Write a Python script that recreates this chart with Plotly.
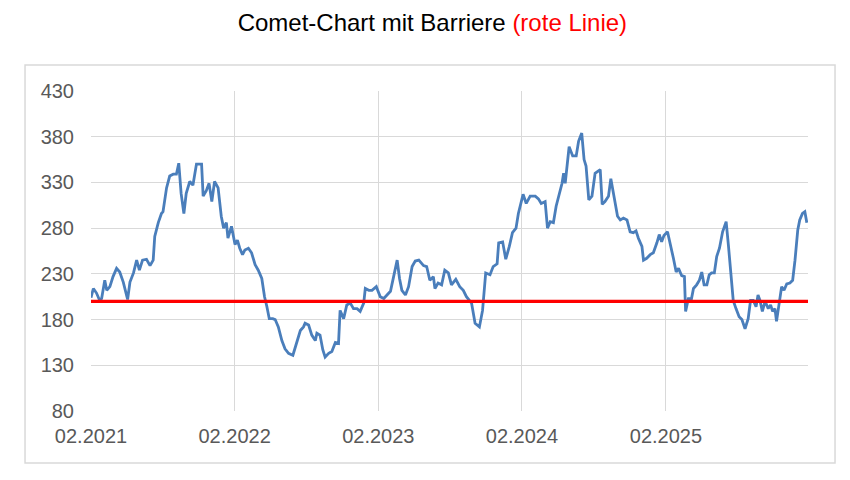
import plotly.graph_objects as go

# Comet-Chart mit Barriere

dates = [
    "2021-02-01", "2021-02-07", "2021-02-15", "2021-02-22", "2021-02-28", "2021-03-08",
    "2021-03-13", "2021-03-21", "2021-03-29", "2021-04-07", "2021-04-15", "2021-04-24",
    "2021-05-05", "2021-05-11", "2021-05-20", "2021-05-28", "2021-06-04", "2021-06-12",
    "2021-06-22", "2021-07-01", "2021-07-09", "2021-07-13", "2021-07-22", "2021-07-30",
    "2021-08-03", "2021-08-12", "2021-08-20", "2021-08-29", "2021-09-06", "2021-09-12",
    "2021-09-18", "2021-09-25", "2021-10-01", "2021-10-10", "2021-10-18", "2021-10-27",
    "2021-11-04", "2021-11-09", "2021-11-13", "2021-11-21", "2021-11-28", "2021-12-05",
    "2021-12-12", "2021-12-21", "2021-12-29", "2022-01-04", "2022-01-11", "2022-01-15",
    "2022-01-24", "2022-02-02", "2022-02-08", "2022-02-14", "2022-02-21", "2022-02-27",
    "2022-03-08", "2022-03-16", "2022-03-25", "2022-04-02", "2022-04-11", "2022-04-18",
    "2022-04-24", "2022-04-30", "2022-05-09", "2022-05-15", "2022-05-23", "2022-06-01",
    "2022-06-09", "2022-06-18", "2022-06-29", "2022-07-09", "2022-07-18", "2022-07-26",
    "2022-07-30", "2022-08-08", "2022-08-16", "2022-08-25", "2022-08-29", "2022-09-06",
    "2022-09-13", "2022-09-19", "2022-09-28", "2022-10-06", "2022-10-15", "2022-10-23",
    "2022-10-27", "2022-11-05", "2022-11-13", "2022-11-22", "2022-11-30", "2022-12-09",
    "2022-12-17", "2022-12-26", "2022-12-30", "2023-01-08", "2023-01-16", "2023-01-27",
    "2023-02-06", "2023-02-15", "2023-02-23", "2023-03-04", "2023-03-12", "2023-03-21",
    "2023-03-27", "2023-04-02", "2023-04-11", "2023-04-19", "2023-04-28", "2023-05-06",
    "2023-05-15", "2023-05-27", "2023-06-04", "2023-06-12", "2023-06-21", "2023-06-25",
    "2023-07-03", "2023-07-12", "2023-07-20", "2023-07-29", "2023-08-06", "2023-08-17",
    "2023-08-27", "2023-09-05", "2023-09-13", "2023-09-26", "2023-10-05", "2023-10-16",
    "2023-10-24", "2023-11-01", "2023-11-12", "2023-11-20", "2023-11-30", "2023-12-04",
    "2023-12-14", "2023-12-22", "2023-12-31", "2024-01-08", "2024-01-17", "2024-01-23",
    "2024-02-04", "2024-02-12", "2024-02-22", "2024-03-06", "2024-03-14", "2024-03-21",
    "2024-03-31", "2024-04-06", "2024-04-13", "2024-04-21", "2024-04-28", "2024-05-04",
    "2024-05-13", "2024-05-17", "2024-05-21", "2024-05-31", "2024-06-09", "2024-06-18",
    "2024-06-24", "2024-07-02", "2024-07-08", "2024-07-13", "2024-07-20", "2024-07-28",
    "2024-08-05", "2024-08-18", "2024-08-23", "2024-08-30", "2024-09-08", "2024-09-14",
    "2024-09-21", "2024-10-01", "2024-10-08", "2024-10-16", "2024-10-25", "2024-11-02",
    "2024-11-10", "2024-11-17", "2024-11-23", "2024-12-02", "2024-12-06", "2024-12-14",
    "2024-12-23", "2024-12-31", "2025-01-09", "2025-01-15", "2025-01-21", "2025-01-27",
    "2025-02-05", "2025-02-13", "2025-02-20", "2025-02-27", "2025-03-05", "2025-03-13",
    "2025-03-20", "2025-03-23", "2025-03-30", "2025-04-07", "2025-04-12", "2025-04-20",
    "2025-04-27", "2025-05-03", "2025-05-09", "2025-05-16", "2025-05-22", "2025-05-28",
    "2025-06-04", "2025-06-10", "2025-06-17", "2025-06-25", "2025-07-04", "2025-07-10",
    "2025-07-16", "2025-07-22", "2025-07-29", "2025-08-06", "2025-08-13", "2025-08-21",
    "2025-08-29", "2025-09-04", "2025-09-11", "2025-09-18", "2025-09-23", "2025-09-28",
    "2025-10-04", "2025-10-11", "2025-10-19", "2025-10-25", "2025-10-30", "2025-11-05",
    "2025-11-09", "2025-11-16", "2025-11-22", "2025-11-28", "2025-12-05", "2025-12-13",
    "2025-12-20", "2025-12-26", "2026-01-02", "2026-01-07", "2026-01-14", "2026-01-20",
    "2026-01-25",
]

prices = [
    204, 214, 209, 202, 203, 223,
    212, 216, 227, 236, 232, 221,
    202, 221, 231, 245, 234, 245,
    246, 239, 245, 271, 286, 296,
    298, 324, 337, 339, 339, 351,
    318, 296, 318, 331, 327, 350,
    350, 350, 315, 321, 329, 309,
    331, 324, 293, 280, 286, 269,
    282, 262, 267, 258, 251, 256,
    258, 253, 240, 234, 225, 205,
    194, 181, 181, 180, 172, 157,
    148, 143, 141, 154, 168, 172,
    176, 174, 163, 157, 165, 163,
    147, 139, 143, 145, 155, 154,
    190, 181, 196, 198, 192, 192,
    189, 198, 214, 212, 212, 216,
    205, 203, 207, 211, 227, 245,
    225, 212, 207, 216, 238, 244,
    245, 239, 238, 223, 227, 214,
    220, 218, 234, 231, 218, 224,
    216, 212, 205, 198, 176, 172,
    190, 231, 229, 238, 241, 264,
    265, 246, 260, 275, 280, 296,
    317, 307, 315, 315, 312, 307,
    309, 280, 287, 286, 304, 313,
    329, 340, 329, 369, 359, 359,
    375, 384, 355, 348, 311, 315,
    340, 344, 306, 309, 315, 334,
    318, 293, 289, 291, 289, 276,
    275, 277, 269, 260, 245, 247,
    251, 253, 264, 273, 265, 272,
    276, 262, 247, 232, 236, 228,
    227, 189, 203, 203, 214, 218,
    223, 232, 218, 218, 229, 231,
    231, 249, 258, 276, 287, 260,
    234, 201, 192, 183, 180, 170,
    181, 201, 201, 194, 207, 201,
    189, 200, 192, 196, 189, 192,
    178, 201, 216, 212, 219, 220,
    223, 245, 278, 289, 296, 298,
    286,
]

barrier = 200

fig = go.Figure()

fig.add_trace(go.Scatter(x=dates, y=prices, mode="lines",
                         line=dict(color="#4A7EBB", width=2.8),
                         hoverinfo="x+y", showlegend=False))

# Barriere als rote Linie
fig.add_trace(go.Scatter(x=[dates[0], "2026-01-28"], y=[barrier, barrier], mode="lines",
                         line=dict(color="#FF0000", width=3.2),
                         hoverinfo="y", showlegend=False))

# Seite hat 8px Rand, daher Figur etwas kleiner
fig.update_layout(
    width=842, height=472,
    margin=dict(l=83, r=42, t=83, b=69),
    paper_bgcolor="white", plot_bgcolor="white",
    font=dict(family="Arial, Liberation Sans, sans-serif", color="#595959"),
    title=dict(text="Comet-Chart mit Barriere <span style='color:#FF0000'>(rote Linie)</span>",
               x=0.504, xref="container", xanchor="center",
               y=0.97, yref="container", yanchor="middle",
               font=dict(size=24, color="#000000")),
)

fig.update_xaxes(range=["2021-02-01", "2026-01-28"], tick0="2021-02-01", dtick="M12",
                 tickformat="%m.%Y", showgrid=True, gridcolor="#D9D9D9", gridwidth=1.3,
                 zeroline=False, showline=False, ticks="outside", ticklen=7,
                 tickcolor="rgba(0,0,0,0)", tickfont=dict(size=20, color="#595959"))

fig.update_yaxes(range=[80, 430], tick0=80, dtick=50, showgrid=True,
                 gridcolor="#D9D9D9", gridwidth=1.3, zeroline=False, showline=False,
                 ticks="outside", ticklen=12, tickcolor="rgba(0,0,0,0)",
                 tickfont=dict(size=20, color="#595959"))

# Rahmen um das Diagramm
fig.add_shape(type="rect", xref="paper", yref="paper",
              x0=-0.092, x1=1.0377, y0=-0.1625, y1=1.081,
              line=dict(color="#D9D9D9", width=1.5), fillcolor="rgba(0,0,0,0)")

fig.write_html("out.html")
